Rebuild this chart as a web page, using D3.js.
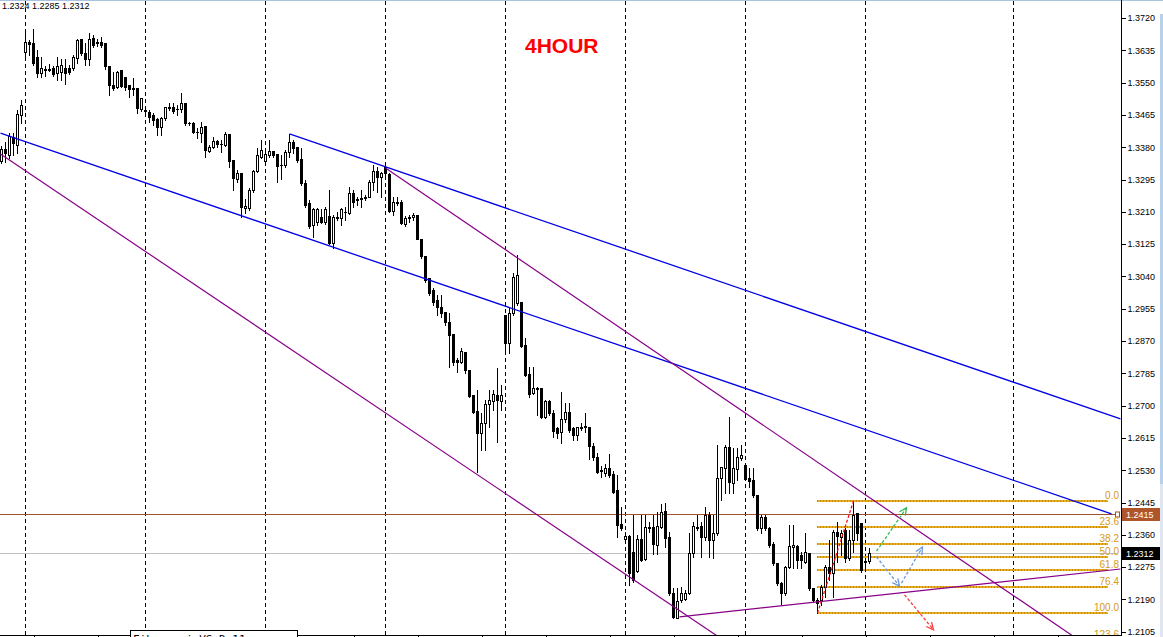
<!DOCTYPE html>
<html><head><meta charset="utf-8">
<script src="https://cdn.jsdelivr.net/npm/d3@7"></script>
<style>
html,body{margin:0;padding:0;background:#fff;overflow:hidden;}
svg{display:block;font-family:"Liberation Sans",Arial,sans-serif;}
</style></head><body>
<svg id="chart" width="1163" height="637"></svg>
<script>
// ---- DATA (4H bars, index 0 = leftmost visible bar) ----
const opens=[1.3344,1.3375,1.3360,1.3407,1.3386,1.3465,1.3631,1.3657,1.3654,1.3617,
1.3575,1.3586,1.3586,1.3588,1.3575,1.3578,1.3588,1.3588,1.3588,1.3615,
1.3665,1.3628,1.3612,1.3667,1.3657,1.3657,1.3654,1.3594,1.3544,1.3538,
1.3583,1.3565,1.3544,1.3536,1.3536,1.3481,1.3478,1.3473,1.3465,1.3454,
1.3433,1.3457,1.3486,1.3486,1.3481,1.3481,1.3496,1.3444,1.3444,1.3420,
1.3417,1.3436,1.3370,1.3381,1.3396,1.3389,1.3386,1.3415,1.3346,1.3296,
1.3312,1.3220,1.3220,1.3267,1.3317,1.3354,1.3344,1.3360,1.3370,1.3362,
1.3333,1.3333,1.3367,1.3394,1.3381,1.3349,1.3286,1.3233,1.3175,1.3183,
1.3196,1.3183,1.3199,1.3128,1.3196,1.3194,1.3209,1.3207,1.3260,1.3244,
1.3246,1.3249,1.3249,1.3288,1.3317,1.3302,1.3328,1.3309,1.3212,1.3236,
1.3236,1.3178,1.3196,1.3196,1.3202,1.3138,1.3094,1.3036,1.3004,1.2978,
1.2960,1.2946,1.2920,1.2888,1.2820,1.2815,1.2841,1.2794,1.2728,1.2686,
1.2628,1.2654,1.2704,1.2712,1.2728,1.2712,1.2938,1.2865,1.2944,1.2970,
1.2973,1.2860,1.2783,1.2733,1.2746,1.2746,1.2670,1.2712,1.2681,1.2641,
1.2631,1.2665,1.2683,1.2641,1.2623,1.2644,1.2646,1.2644,1.2594,1.2565,
1.2531,1.2523,1.2536,1.2520,1.2478,1.2388,1.2349,1.2357,1.2315,1.2265,
1.2349,1.2296,1.2380,1.2380,1.2333,1.2380,1.2423,1.2354,1.2207,1.2141,
1.2188,1.2191,1.2207,1.2312,1.2380,1.2383,1.2354,1.2412,1.2346,1.2365,
1.2509,1.2536,1.2591,1.2496,1.2533,1.2562,1.2544,1.2509,1.2504,1.2465,
1.2378,1.2407,1.2378,1.2336,1.2286,1.2233,1.2207,1.2275,1.2328,1.2331,
1.2307,1.2288,1.2312,1.2220,1.2188,1.2188,1.2223,1.2275,1.2259,1.2367,
1.2354,1.2373,1.2299,1.2346,1.2417,1.2391,1.2288,1.2290];

const highs=[1.3383,1.3394,1.3417,1.3417,1.3478,1.3504,1.3681,1.3662,1.3691,1.3636,
1.3617,1.3594,1.3599,1.3594,1.3617,1.3612,1.3612,1.3596,1.3623,1.3665,
1.3665,1.3654,1.3681,1.3675,1.3665,1.3670,1.3654,1.3594,1.3578,1.3581,
1.3583,1.3565,1.3544,1.3562,1.3536,1.3510,1.3486,1.3478,1.3470,1.3457,
1.3460,1.3486,1.3496,1.3496,1.3491,1.3523,1.3496,1.3446,1.3446,1.3431,
1.3446,1.3436,1.3386,1.3407,1.3399,1.3399,1.3420,1.3415,1.3346,1.3320,
1.3312,1.3244,1.3273,1.3320,1.3378,1.3399,1.3373,1.3399,1.3370,1.3362,
1.3360,1.3373,1.3415,1.3399,1.3381,1.3378,1.3294,1.3241,1.3220,1.3220,
1.3217,1.3223,1.3267,1.3202,1.3209,1.3220,1.3223,1.3275,1.3267,1.3249,
1.3267,1.3254,1.3294,1.3333,1.3328,1.3315,1.3331,1.3312,1.3249,1.3249,
1.3241,1.3199,1.3202,1.3207,1.3202,1.3138,1.3094,1.3036,1.3010,1.2991,
1.2991,1.2946,1.2944,1.2888,1.2825,1.2852,1.2841,1.2794,1.2728,1.2741,
1.2681,1.2715,1.2741,1.2741,1.2799,1.2754,1.2938,1.2957,1.3049,1.3096,
1.2973,1.2878,1.2802,1.2802,1.2749,1.2746,1.2715,1.2715,1.2688,1.2644,
1.2736,1.2707,1.2707,1.2644,1.2644,1.2654,1.2681,1.2644,1.2602,1.2575,
1.2541,1.2546,1.2573,1.2528,1.2517,1.2433,1.2367,1.2360,1.2412,1.2360,
1.2412,1.2412,1.2394,1.2412,1.2420,1.2441,1.2444,1.2367,1.2220,1.2220,
1.2223,1.2215,1.2365,1.2394,1.2412,1.2394,1.2433,1.2420,1.2412,1.2596,
1.2538,1.2596,1.2670,1.2588,1.2588,1.2596,1.2544,1.2536,1.2536,1.2465,
1.2412,1.2412,1.2380,1.2341,1.2286,1.2236,1.2278,1.2386,1.2386,1.2333,
1.2315,1.2365,1.2312,1.2220,1.2194,1.2228,1.2281,1.2346,1.2373,1.2394,
1.2373,1.2378,1.2373,1.2449,1.2417,1.2391,1.2299,1.2324];

const lows=[1.3338,1.3341,1.3352,1.3360,1.3365,1.3444,1.3610,1.3623,1.3596,1.3565,
1.3565,1.3567,1.3581,1.3567,1.3557,1.3557,1.3546,1.3573,1.3583,1.3602,
1.3623,1.3596,1.3596,1.3644,1.3646,1.3644,1.3586,1.3517,1.3531,1.3536,
1.3538,1.3531,1.3512,1.3517,1.3470,1.3475,1.3470,1.3446,1.3438,1.3412,
1.3412,1.3452,1.3478,1.3470,1.3465,1.3473,1.3438,1.3438,1.3417,1.3404,
1.3394,1.3354,1.3367,1.3378,1.3381,1.3367,1.3383,1.3328,1.3267,1.3288,
1.3196,1.3207,1.3215,1.3262,1.3315,1.3352,1.3338,1.3354,1.3354,1.3288,
1.3296,1.3328,1.3354,1.3365,1.3341,1.3281,1.3223,1.3167,1.3144,1.3175,
1.3181,1.3178,1.3125,1.3115,1.3188,1.3175,1.3188,1.3204,1.3223,1.3228,
1.3223,1.3241,1.3249,1.3267,1.3262,1.3249,1.3307,1.3209,1.3202,1.3228,
1.3178,1.3173,1.3183,1.3188,1.3144,1.3088,1.3025,1.2991,1.2965,1.2938,
1.2933,1.2912,1.2802,1.2807,1.2788,1.2812,1.2786,1.2723,1.2681,1.2525,
1.2583,1.2583,1.2644,1.2688,1.2604,1.2688,1.2846,1.2838,1.2938,1.2965,
1.2854,1.2778,1.2723,1.2731,1.2675,1.2667,1.2667,1.2675,1.2617,1.2615,
1.2602,1.2657,1.2631,1.2610,1.2610,1.2636,1.2631,1.2560,1.2557,1.2523,
1.2512,1.2515,1.2512,1.2470,1.2354,1.2373,1.2341,1.2228,1.2236,1.2262,
1.2291,1.2294,1.2367,1.2310,1.2310,1.2378,1.2328,1.2202,1.2141,1.2141,
1.2183,1.2188,1.2204,1.2302,1.2373,1.2302,1.2346,1.2302,1.2299,1.2360,
1.2452,1.2470,1.2470,1.2470,1.2504,1.2557,1.2504,1.2486,1.2460,1.2373,
1.2365,1.2373,1.2328,1.2281,1.2228,1.2178,1.2202,1.2273,1.2273,1.2273,
1.2273,1.2286,1.2215,1.2183,1.2154,1.2175,1.2196,1.2241,1.2196,1.2288,
1.2307,1.2288,1.2294,1.2315,1.2346,1.2262,1.2267,1.2285];

const closes=[1.3375,1.3365,1.3410,1.3391,1.3467,1.3491,1.3657,1.3652,1.3602,1.3575,
1.3588,1.3583,1.3583,1.3573,1.3594,1.3596,1.3575,1.3578,1.3617,1.3662,
1.3628,1.3612,1.3665,1.3649,1.3654,1.3649,1.3594,1.3544,1.3536,1.3578,
1.3541,1.3538,1.3533,1.3533,1.3483,1.3510,1.3475,1.3460,1.3452,1.3433,
1.3457,1.3486,1.3483,1.3475,1.3481,1.3496,1.3444,1.3444,1.3420,1.3420,
1.3433,1.3373,1.3381,1.3396,1.3389,1.3389,1.3415,1.3344,1.3299,1.3312,
1.3223,1.3225,1.3267,1.3317,1.3360,1.3373,1.3362,1.3370,1.3360,1.3331,
1.3333,1.3367,1.3394,1.3378,1.3346,1.3286,1.3228,1.3173,1.3217,1.3217,
1.3183,1.3217,1.3128,1.3196,1.3194,1.3217,1.3209,1.3260,1.3236,1.3241,
1.3244,1.3246,1.3288,1.3317,1.3302,1.3312,1.3312,1.3212,1.3236,1.3233,
1.3181,1.3194,1.3194,1.3202,1.3138,1.3094,1.3031,1.2996,1.2973,1.2960,
1.2944,1.2920,1.2886,1.2815,1.2815,1.2844,1.2794,1.2725,1.2683,1.2628,
1.2654,1.2704,1.2715,1.2731,1.2715,1.2728,1.2865,1.2944,1.3038,1.3044,
1.2857,1.2781,1.2731,1.2746,1.2744,1.2670,1.2712,1.2681,1.2633,1.2628,
1.2665,1.2683,1.2636,1.2623,1.2644,1.2641,1.2644,1.2594,1.2565,1.2525,
1.2528,1.2536,1.2517,1.2473,1.2386,1.2378,1.2357,1.2260,1.2241,1.2349,
1.2294,1.2380,1.2378,1.2336,1.2383,1.2420,1.2352,1.2207,1.2144,1.2186,
1.2207,1.2207,1.2312,1.2383,1.2378,1.2354,1.2412,1.2346,1.2365,1.2509,
1.2538,1.2591,1.2499,1.2536,1.2565,1.2570,1.2507,1.2502,1.2465,1.2378,
1.2407,1.2378,1.2333,1.2286,1.2233,1.2207,1.2275,1.2331,1.2333,1.2294,
1.2294,1.2315,1.2220,1.2188,1.2181,1.2223,1.2275,1.2259,1.2367,1.2357,
1.2365,1.2299,1.2346,1.2412,1.2365,1.2267,1.2291,1.2312];

const priceTicks=[1.3720,1.3635,1.3550,1.3465,1.3380,1.3295,1.3210,1.3125,1.3040,1.2955,
1.2870,1.2785,1.2700,1.2615,1.2530,1.2445,1.2360,1.2275,1.2190,1.2105];
const gridBars=[6,36,66,96,126,156,186,216,253];
const timeTickBars=[8,24,40,56,72,88,104,120,136,152,168,184,200,216,232,248,264];
const headerText="1.2324 1.2285 1.2312";
const titleText="4HOUR";
const markerPrice=1.2415;
const bidPrice=1.2312;
const fiboLevels=[0,23.6,38.2,50,61.8,76.4,100,123.6];
const fiboLabels=["0.0","23.6","38.2","50.0","61.8","76.4","100.0","123.6"];
const fiboHigh=1.2449, fiboLow=1.2154, fiboHighBar=213, fiboLowBar=204, fiboEndBar=276.5;
const blueLines=[{i1:-0.25,p1:1.3417,i2:277.5,p2:1.2415},{i1:72,p1:1.3415,i2:279.75,p2:1.2665}];
const purpleLines=[{i1:-0.25,p1:1.3362,i2:179.75,p2:1.2088},{i1:96,p1:1.3325,i2:269.75,p2:1.2080},{i1:169.5,p1:1.2144,i2:279.75,p2:1.2270}];
const arrows=[
 {i1:218.75,p1:1.2317,i2:226.25,p2:1.2431,color:"#33bb55"},
 {i1:218.75,p1:1.2302,i2:224.5,p2:1.2225,color:"#6e98d6"},
 {i1:225,p1:1.2233,i2:230.25,p2:1.2328,color:"#6e98d6"},
 {i1:225.75,p1:1.2202,i2:233,p2:1.2110,color:"#ff3a3a"}];

// ---- CHART ----
const plotRight=1121, plotBottom=635;
const svg=d3.select("#chart");
const x=d3.scaleLinear().domain([0,1]).range([1,5]);
const y=d3.scaleLinear().domain([1.2105,1.3720]).range([631.7,18]);
const cx=i=>x(i)+0.5;

svg.append("rect").attr("x",0).attr("y",0).attr("width",1163).attr("height",1).attr("fill","#a9c2e0");
svg.append("rect").attr("x",1160).attr("y",14).attr("width",3).attr("height",470).attr("fill","#b9d0ea");
svg.append("rect").attr("x",1160).attr("y",484).attr("width",3).attr("height",153).attr("fill","#dfe6ef");

svg.append("defs").append("clipPath").attr("id","plot").append("rect")
  .attr("x",0).attr("y",0).attr("width",plotRight).attr("height",plotBottom);
const plot=svg.append("g").attr("clip-path","url(#plot)");

// grid separators
plot.selectAll("line.grid").data(gridBars).join("line").attr("class","grid")
  .attr("x1",cx).attr("x2",cx).attr("y1",1).attr("y2",plotBottom)
  .attr("stroke","#000").attr("stroke-dasharray","4,3").attr("shape-rendering","crispEdges");

// horizontal lines
const hy=p=>Math.round(y(p))+0.5;
plot.append("line").attr("x1",0).attr("x2",1117).attr("y1",hy(bidPrice)).attr("y2",hy(bidPrice))
  .attr("stroke","#c0c0c0").attr("shape-rendering","crispEdges");
plot.append("line").attr("x1",0).attr("x2",1116).attr("y1",hy(markerPrice)).attr("y2",hy(markerPrice))
  .attr("stroke","#a0522d").attr("shape-rendering","crispEdges");
plot.append("rect").attr("x",1115.5).attr("y",hy(markerPrice)-2.5).attr("width",4).attr("height",5)
  .attr("fill","none").attr("stroke","#a0522d");

// fibonacci
const fiboPrice=l=>fiboHigh-(fiboHigh-fiboLow)*l/100;
const fg=plot.append("g");
fg.selectAll("line").data(fiboLevels).join("line")
  .attr("x1",x(fiboLowBar)).attr("x2",x(fiboEndBar)+0.5)
  .attr("y1",d=>Math.round(y(fiboPrice(d)))).attr("y2",d=>Math.round(y(fiboPrice(d))))
  .attr("stroke","#e8b020").attr("stroke-width",2).attr("shape-rendering","crispEdges");
fg.selectAll("line.dots").data(fiboLevels).join("line").attr("class","dots")
  .attr("x1",x(fiboLowBar)).attr("x2",x(fiboEndBar)+0.5)
  .attr("y1",d=>Math.round(y(fiboPrice(d)))).attr("y2",d=>Math.round(y(fiboPrice(d))))
  .attr("stroke","#c88a10").attr("stroke-width",2).attr("stroke-dasharray","1,2").attr("shape-rendering","crispEdges");
fg.selectAll("text").data(fiboLevels).join("text")
  .attr("x",1119).attr("y",d=>Math.round(y(fiboPrice(d)))-2)
  .attr("text-anchor","end").attr("font-size",10).attr("fill","#d69a10")
  .text((d,i)=>fiboLabels[i]);

// candles
const bars=d3.range(opens.length).map(i=>({i,o:opens[i],h:highs[i],l:lows[i],c:closes[i]}));
const cg=plot.append("g").attr("shape-rendering","crispEdges");
const cs=cg.selectAll("g").data(bars).join("g");
cs.append("rect").attr("x",d=>x(d.i)).attr("width",1)
  .attr("y",d=>Math.round(y(d.h))).attr("height",d=>Math.round(y(d.l))-Math.round(y(d.h))+1).attr("fill","#000");
cs.append("rect").attr("x",d=>x(d.i)-1).attr("width",3)
  .attr("y",d=>Math.round(y(Math.max(d.o,d.c))))
  .attr("height",d=>Math.max(1,Math.round(y(Math.min(d.o,d.c)))-Math.round(y(Math.max(d.o,d.c)))+1))
  .attr("fill","#000");
cs.filter(d=>d.c>d.o).append("rect").attr("x",d=>x(d.i)).attr("width",1)
  .attr("y",d=>Math.round(y(d.c))+1)
  .attr("height",d=>Math.max(0,Math.round(y(d.o))-Math.round(y(d.c))-1))
  .attr("fill","#fff");

// trend lines
const tl=plot.append("g").attr("fill","none");
tl.selectAll("line.b").data(blueLines).join("line").attr("class","b")
  .attr("x1",d=>cx(d.i1)).attr("y1",d=>y(d.p1)).attr("x2",d=>cx(d.i2)).attr("y2",d=>y(d.p2))
  .attr("stroke","#0000e6").attr("stroke-width",1.3);
tl.selectAll("line.p").data(purpleLines).join("line").attr("class","p")
  .attr("x1",d=>cx(d.i1)).attr("y1",d=>y(d.p1)).attr("x2",d=>cx(d.i2)).attr("y2",d=>y(d.p2))
  .attr("stroke","#880088").attr("stroke-width",1.2);

// fibo swing line
plot.append("line").attr("x1",cx(fiboLowBar)).attr("y1",y(fiboLow)).attr("x2",cx(fiboHighBar)).attr("y2",y(fiboHigh))
  .attr("stroke","#ff0000").attr("stroke-width",1.2).attr("stroke-dasharray","3,2");

// arrows
arrows.forEach(a=>{
  const x1=cx(a.i1),y1=y(a.p1),x2=cx(a.i2),y2=y(a.p2);
  plot.append("line").attr("x1",x1).attr("y1",y1).attr("x2",x2).attr("y2",y2)
    .attr("stroke",a.color).attr("stroke-width",1.3).attr("stroke-dasharray","3,2");
  const ang=Math.atan2(y2-y1,x2-x1),L=8,s=0.45;
  const q1=[x2-L*Math.cos(ang-s),y2-L*Math.sin(ang-s)], q2=[x2-L*Math.cos(ang+s),y2-L*Math.sin(ang+s)];
  plot.append("path").attr("d",`M${q1[0]},${q1[1]}L${x2},${y2}L${q2[0]},${q2[1]}`)
    .attr("fill","none").attr("stroke",a.color).attr("stroke-width",1.3);
});

// axes
svg.append("line").attr("x1",plotRight+0.5).attr("x2",plotRight+0.5).attr("y1",0).attr("y2",plotBottom+1)
  .attr("stroke","#000").attr("shape-rendering","crispEdges");
svg.append("line").attr("x1",0).attr("x2",plotRight+1).attr("y1",plotBottom+0.5).attr("y2",plotBottom+0.5)
  .attr("stroke","#000").attr("shape-rendering","crispEdges");
const ag=svg.append("g").attr("transform",`translate(${plotRight+0.5},0)`)
  .call(d3.axisRight(y).tickValues(priceTicks).tickSize(4).tickPadding(2).tickFormat(d3.format(".4f")));
ag.select(".domain").remove();
ag.selectAll("line").attr("stroke","#000").attr("shape-rendering","crispEdges");
ag.selectAll("text").attr("font-size",9).attr("font-family","'Liberation Sans',Arial,sans-serif").attr("fill","#000");
const bg=svg.append("g").attr("transform",`translate(0.5,${plotBottom+0.5})`)
  .call(d3.axisBottom(x).tickValues(timeTickBars).tickSize(2).tickFormat(""));
bg.select(".domain").remove();
bg.selectAll("line").attr("stroke","#000").attr("shape-rendering","crispEdges");

// price label boxes
[[markerPrice,"#b0552a"],[bidPrice,"#000"]].forEach(([p,col])=>{
  const yy=Math.round(y(p));
  svg.append("rect").attr("x",plotRight+1).attr("y",yy-6).attr("width",38).attr("height",13).attr("fill",col);
  svg.append("text").attr("x",plotRight+5).attr("y",yy+4).attr("font-size",9).attr("fill","#fff").text(d3.format(".4f")(p));
});

// texts
svg.append("text").attr("x",2).attr("y",9).attr("font-size",9).attr("fill","#000").text(headerText);
svg.append("text").attr("x",525).attr("y",52.5).attr("font-size",21).attr("font-weight","bold").attr("fill","#ff0000").text(titleText);

// bottom info box (cut off by the window edge, as in the reference)
svg.append("rect").attr("x",130.5).attr("y",630.5).attr("width",167).attr("height",12).attr("fill","#fff").attr("stroke","#000");
svg.append("text").attr("x",133).attr("y",643).attr("font-size",11).attr("font-family","'DejaVu Sans Mono',monospace").attr("fill","#000").text("Fibonacci VS D.11");
</script>
</body></html>
